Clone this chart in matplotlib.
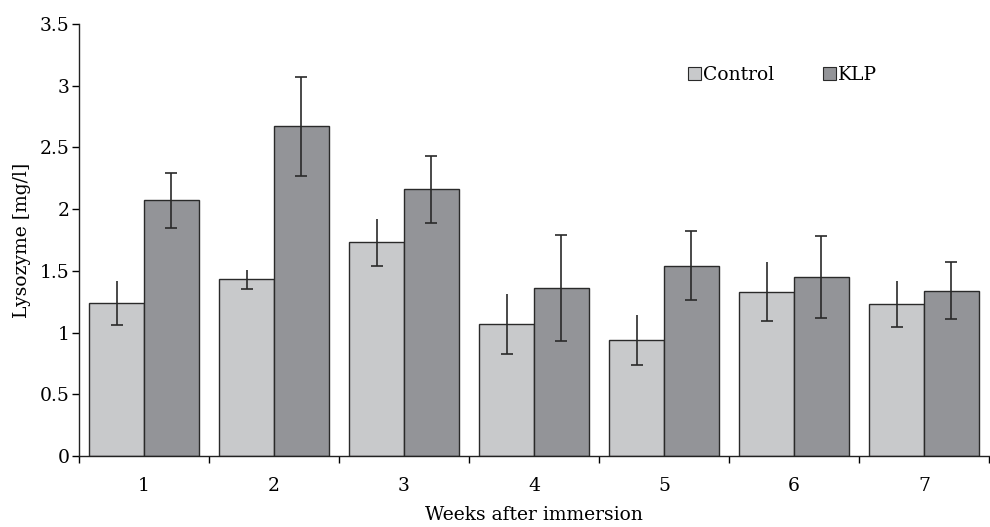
import numpy as np
import matplotlib
matplotlib.use("Agg")
import matplotlib.pyplot as plt
from matplotlib.patches import Patch

plt.rcParams['font.family'] = ['DejaVu Serif']

weeks = ["1", "2", "3", "4", "5", "6", "7"]
control = [1.24, 1.43, 1.73, 1.07, 0.94, 1.33, 1.23]
control_err = [0.18, 0.075, 0.19, 0.245, 0.20, 0.24, 0.185]
klp = [2.07, 2.67, 2.16, 1.36, 1.54, 1.45, 1.34]
klp_err = [0.22, 0.40, 0.27, 0.43, 0.28, 0.33, 0.23]

c_col = "#c8c9cb"
k_col = "#939498"
edge = "#2a2a2a"
fs = 13.5

fig = plt.figure(figsize=(9.9, 5.27), dpi=100)
ax = fig.add_axes([0.0798, 0.1347, 0.9192, 0.8198])

x = np.arange(len(weeks))
w = 0.42
ax.bar(x - w / 2, control, w, color=c_col, edgecolor=edge, linewidth=1.0, zorder=2)
ax.bar(x + w / 2, klp, w, color=k_col, edgecolor=edge, linewidth=1.0, zorder=2)

eb1 = ax.errorbar(x - w / 2, control, yerr=control_err, fmt='none', ecolor=edge,
                  elinewidth=1.2, capsize=4, capthick=1.2, zorder=3)
# control bars only show the lower cap
eb1[1][1].set_visible(False)
ax.errorbar(x + w / 2, klp, yerr=klp_err, fmt='none', ecolor=edge,
            elinewidth=1.2, capsize=4, capthick=1.2, zorder=3)

ax.set_xlim(-0.5, len(weeks) - 0.5)
ax.set_ylim(0, 3.5)
ax.set_yticks([0, 0.5, 1, 1.5, 2, 2.5, 3, 3.5])
ax.set_yticklabels(["0", "0.5", "1", "1.5", "2", "2.5", "3", "3.5"])
ax.set_xticks(x)
ax.set_xticklabels(weeks)
ax.set_xticks(np.arange(len(weeks) + 1) - 0.5, minor=True)
ax.tick_params(axis='x', which='major', length=0, pad=15, labelsize=fs)
ax.tick_params(axis='x', which='minor', length=5, width=1.0, direction='out')
ax.tick_params(axis='y', length=5, width=1.0, direction='out', labelsize=fs, pad=2)

for s in ["top", "right"]:
    ax.spines[s].set_visible(False)
for s in ["left", "bottom"]:
    ax.spines[s].set_linewidth(1.0)
    ax.spines[s].set_color("#222222")

ax.set_ylabel("Lysozyme [mg/l]", fontsize=fs, labelpad=6)
ax.set_xlabel("Weeks after immersion", fontsize=fs, labelpad=8)

handles = [Patch(facecolor=c_col, edgecolor=edge, linewidth=0.8),
           Patch(facecolor=k_col, edgecolor=edge, linewidth=0.8)]
fig.legend(handles, ["Control", "KLP"], loc='center', bbox_to_anchor=(0.79, 0.858),
           ncol=2, frameon=False, fontsize=fs, handlelength=0.7, handleheight=0.7,
           handletextpad=0.1, columnspacing=2.6)

fig.savefig("out.png", dpi=100)
